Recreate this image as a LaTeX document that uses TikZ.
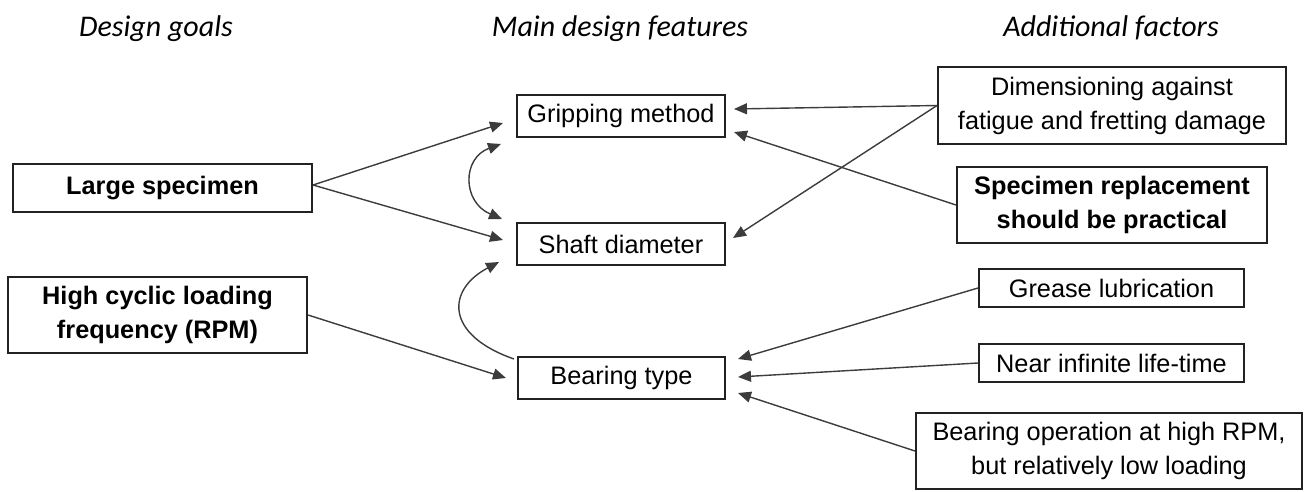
\documentclass[tikz,border=0pt]{standalone}
\usepackage{fontspec}
\setmainfont{Liberation Sans}
\newfontfamily\hdrfont{Carlito}
\usetikzlibrary{arrows.meta,calc}
\definecolor{linegray}{HTML}{3C3C3C}
\definecolor{boxgray}{HTML}{222222}
\tikzset{
  box/.style={draw=boxgray, line width=2pt, inner sep=0pt, align=center,
    font=\fontsize{25.3}{34}\selectfont},
  boldbox/.style={box, font=\fontsize{25.3}{34}\selectfont\bfseries},
  hdr/.style={anchor=base, font=\hdrfont\itshape\fontsize{30}{34}\selectfont},
  arr/.style={draw=linegray, line width=1.4pt,
    -{Triangle[length=13pt,width=11pt]}},
  dblarr/.style={draw=linegray, line width=1.4pt,
    {Triangle[length=13pt,width=11pt]}-{Triangle[length=13pt,width=11pt]}}
}
\begin{document}
\begin{tikzpicture}[x=1pt,y=-1pt]
\useasboundingbox (0,0) rectangle (1307,491);

% column headings
\node[hdr] (h1) at (156,36) {Design goals};
\node[hdr] (h2) at (620,36) {Main design features};
\node[hdr] (h3) at (1111,36) {Additional factors};

% design goals
\node[boldbox, minimum width=299pt, minimum height=48pt] (large) at (162.5,188) {Large specimen};
\node[boldbox, minimum width=299pt, minimum height=76pt] (high) at (157.5,315) {High cyclic loading\\frequency (RPM)};

% main design features
\node[box, minimum width=208pt, minimum height=42pt] (grip) at (621,116) {Gripping method};
\node[box, minimum width=208pt, minimum height=42pt] (shaft) at (621,244) {Shaft diameter};
\node[box, minimum width=207pt, minimum height=42pt] (bear) at (621.5,378) {Bearing type};

% additional factors
\node[box, minimum width=348pt, minimum height=77pt] (dim) at (1112,105.5) {Dimensioning against\\fatigue and fretting damage};
\node[boldbox, minimum width=310pt, minimum height=76pt] (repl) at (1112,205) {Specimen replacement\\should be practical};
\node[box, minimum width=265pt, minimum height=38pt] (grease) at (1111.5,288) {Grease lubrication};
\node[box, minimum width=265pt, minimum height=38pt] (near) at (1111.5,363) {Near infinite life-time};
\node[box, minimum width=386pt, minimum height=76pt] (bop) at (1109,451) {Bearing operation at high RPM,\\but relatively low loading};

% design goals -> features
\draw[arr] ($(large.east)+(0,-3)$) -- ($(grip.west)+(-13,7)$);
\draw[arr] ($(large.east)+(0,-3)$) -- ($(shaft.west)+(-13,-4)$);
\draw[arr] (high.east) -- ($(bear.west)+(-11,0)$);

% coupling between features
\draw[dblarr] ($(grip.south west)+(-15,6)$) .. controls (462,158) and (462,202) .. ($(shaft.north west)+(-14,-3)$);
\draw[arr] ($(bear.north west)+(-3,3)$) .. controls (445,335) and (446,290) .. ($(shaft.south west)+(-17,-4)$);

% additional factors -> features
\draw[arr] (dim.west) -- ($(grip.east)+(8,-7)$);
\draw[arr] (dim.west) -- ($(shaft.east)+(7,-6)$);
\draw[arr] (repl.west) -- ($(grip.east)+(8,16)$);
\draw[arr] (grease.west) -- ($(bear.east)+(12,-19)$);
\draw[arr] (near.west) -- ($(bear.east)+(12,-1)$);
\draw[arr] (bop.west) -- ($(bear.east)+(12,15)$);
\end{tikzpicture}
\end{document}
